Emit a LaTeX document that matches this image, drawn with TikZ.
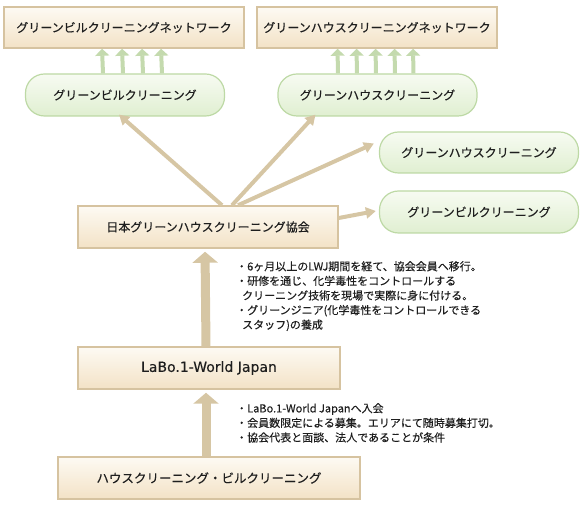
\documentclass[tikz,border=0pt]{standalone}
\usepackage{fontspec}
\setmainfont{Noto Sans CJK JP}[FakeBold=0.25]
\newfontfamily\latinfont{DejaVu Sans}[FakeBold=0.2]
\usepackage{xcolor}
\usetikzlibrary{arrows.meta,positioning,calc}

\definecolor{boxline}{HTML}{D6C3A0}
\definecolor{boxtop}{HTML}{FDFAF3}
\definecolor{boxbot}{HTML}{F3E2C6}
\definecolor{pillline}{HTML}{BDD9A5}
\definecolor{pilltop}{HTML}{F7FBF2}
\definecolor{pillbot}{HTML}{E0EFD1}
\definecolor{tan}{HTML}{D6C6A4}
\definecolor{leaf}{HTML}{C4DAAE}
\definecolor{ink}{HTML}{1E1E1E}

\tikzset{
  titlebox/.style={draw=boxline, line width=1.5pt, top color=boxtop, bottom color=boxbot,
    minimum height=42pt, inner sep=0pt, text=ink, font=\fontsize{12}{14}\selectfont},
  pill/.style={draw=pillline, line width=1.2pt, rounded corners=19pt, top color=pilltop,
    bottom color=pillbot, minimum width=199pt, minimum height=42pt, inner sep=0pt,
    text=ink, font=\fontsize{12}{14}\selectfont},
  feed/.style={draw=tan, line width=4pt, -{Triangle[length=10pt,width=11pt]}},
  lift/.style={draw=tan, line width=9pt, -{Triangle[length=11pt,width=25pt]}, shorten >=3pt},
  sprout/.style={draw=leaf, line width=4pt, -{Triangle[length=7pt,width=14pt]}},
  note/.style={anchor=north west, align=left, inner sep=0pt, text=ink,
    font=\fontsize{11}{14.6}\selectfont}
}

\begin{document}
\begin{tikzpicture}[x=1pt, y=-1pt]
  \useasboundingbox (0,0) rectangle (582,510);

  % Networks
  \node[titlebox, minimum width=240pt, minimum height=41pt] (netbil) at (124,27.5) {グリーンビルクリーニングネットワーク};
  \node[titlebox, minimum width=240pt, minimum height=41pt] (nethouse) at (377,27.5) {グリーンハウスクリーニングネットワーク};

  % Cleaning services
  \node[pill] (pillbil) at (125,95) {グリーンビルクリーニング};
  \node[pill] (pillhouse) at (377.5,95) {グリーンハウスクリーニング};
  \node[pill, minimum height=41pt] (pillup) at (479,152.5) {グリーンハウスクリーニング};
  \node[pill] (pilllow) at (479,212) {グリーンビルクリーニング};

  % Association and entry steps
  \node[titlebox, minimum width=260pt] (assoc) at (208,227) {日本グリーンハウスクリーニング協会};
  \node[titlebox, minimum width=262pt, font=\latinfont\fontsize{14}{16}\selectfont] (labo) at (209,368) {LaBo.1-World Japan};
  \node[titlebox, minimum width=302pt, font=\fontsize{12.5}{14}\selectfont] (base) at (209,478) {ハウスクリーニング・ビルクリーニング};

  % Green feeds into the networks
  \foreach \dx in {-22,-2,18,37}
    \draw[sprout] ([xshift=\dx pt]pillbil.north) -- ([xshift=\dx pt]netbil.south);
  \foreach \dx in {-39.5,-20.5,-1.5,17.5,36}
    \draw[sprout] ([xshift=\dx pt]pillhouse.north) -- ([xshift=\dx pt]nethouse.south);

  % Association to services
  \draw[feed] ([xshift=14pt]assoc.north) -- ([shift={(-6pt,2pt)}]pillbil.south);
  \draw[feed] ([xshift=24pt]assoc.north) -- ([shift={(-62pt,2pt)}]pillhouse.south);
  \draw[feed] ([xshift=30pt]assoc.north) -- ([shift={(-5pt,9pt)}]pillup.west);
  \draw[feed] ([yshift=9pt]assoc.east) -- ([shift={(-3pt,1pt)}]pilllow.west);

  % Steps up
  \draw[lift] ([xshift=-3pt]labo.north) -- ([xshift=-3pt]assoc.south);
  \draw[lift] ([xshift=-3pt]base.north) -- ([xshift=-3pt]labo.south);

  % Conditions
  \node[note] (note1) at (236,261) {・6ヶ月以上のLWJ期間を経て、協会会員へ移行。\\
    ・研修を通じ、化学毒性をコントロールする\\
    \hspace{6pt}クリーニング技術を現場で実際に身に付ける。\\
    ・グリーンジニア(化学毒性をコントロールできる\\
    \hspace{6pt}スタッフ)の養成};
  \node[note] (note2) at (236,403) {・LaBo.1-World Japanへ入会\\
    ・会員数限定による募集。エリアにて随時募集打切。\\
    ・協会代表と面談、法人であることが条件};
\end{tikzpicture}
\end{document}
